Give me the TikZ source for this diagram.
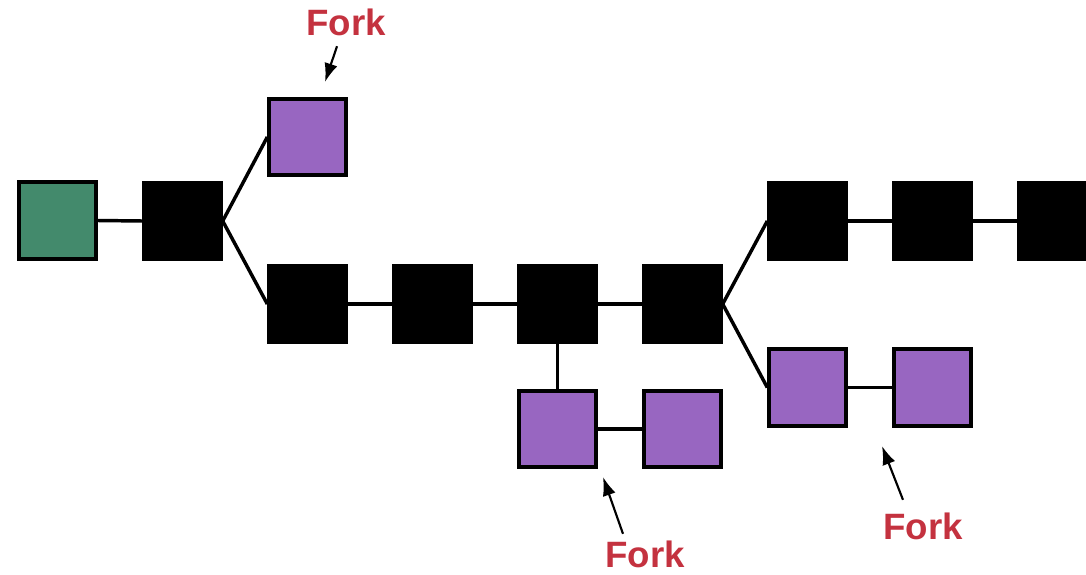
\documentclass[tikz,border=0pt]{standalone}
\usepackage{fontspec}
\setmainfont{Liberation Sans}
\usepackage{tikz}
\usetikzlibrary{arrows.meta}

\definecolor{genesis}{HTML}{438A6C}
\definecolor{orphan}{HTML}{9866C1}
\definecolor{forkred}{HTML}{C4323F}

\tikzset{
    block/.style={draw=black, line width=2.8pt, minimum size=57.5pt, inner sep=0pt},
    mainblock/.style={block, fill=black},
    forkblock/.style={block, fill=orphan},
    link/.style={line width=2.6pt},
    forklabel/.style={text=forkred, font=\bfseries\fontsize{27.5}{31}\selectfont},
    pointer/.style={line width=1.6pt, -{Latex[length=14pt, width=10pt]}}
}

\begin{document}
\begin{tikzpicture}[x=0.75pt, y=-0.75pt]
    \useasboundingbox (0,0) rectangle (1086,575);
    \clip (0,0) rectangle (1086,575);

    \node[block, fill=genesis] (g) at (57.5,220.5) {};
    \node[mainblock] (b1) at (182.5,221) {};
    \node[forkblock] (f1) at (307.5,137) {};

    % main chain
    \foreach \i/\x in {1/307.5,2/432.5,3/557.5,4/682.5}
    {
    \node[mainblock] (m\i) at (\x,304) {};
    }
    \foreach \i/\x in {1/807.5,2/932.5,3/1057.5}
    {
    \node[mainblock] (t\i) at (\x,221) {};
    }

    % side branches
    \node[forkblock] (p1) at (557.5,429) {};
    \node[forkblock] (p2) at (682.5,429) {};
    \node[forkblock] (q1) at (807.5,387.5) {};
    \node[forkblock] (q2) at (932.5,387.5) {};

    \draw[link] (g.east) -- (b1.west);
    \draw[link] (b1.east) -- (f1.west);
    \draw[link] (b1.east) -- (m1.west);
    \foreach \a/\b in {m1/m2,m2/m3,m3/m4,t1/t2,t2/t3,p1/p2,q1/q2}
    {
    \draw[link] (\a.east) -- (\b.west);
    }
    \draw[link] (m4.east) -- (t1.west);
    \draw[link] (m4.east) -- (q1.west);
    \draw[link] (m3.south) -- (p1.north);

    % labels
    \node[forklabel] (fk1) at (346,22) {Fork};
    \node[forklabel] (fk2) at (645,554) {Fork};
    \node[forklabel] (fk3) at (923,526) {Fork};
    \draw[pointer] (fk1.south) ++(-9,6) coordinate (s1) (s1) -- (325,82);
    \draw[pointer] (fk2.north) ++(-22,-2) coordinate (s2) (s2) -- (603,477);
    \draw[pointer] (fk3.north) ++(-20,-8) coordinate (s3) (s3) -- (882,446);
\end{tikzpicture}
\end{document}
